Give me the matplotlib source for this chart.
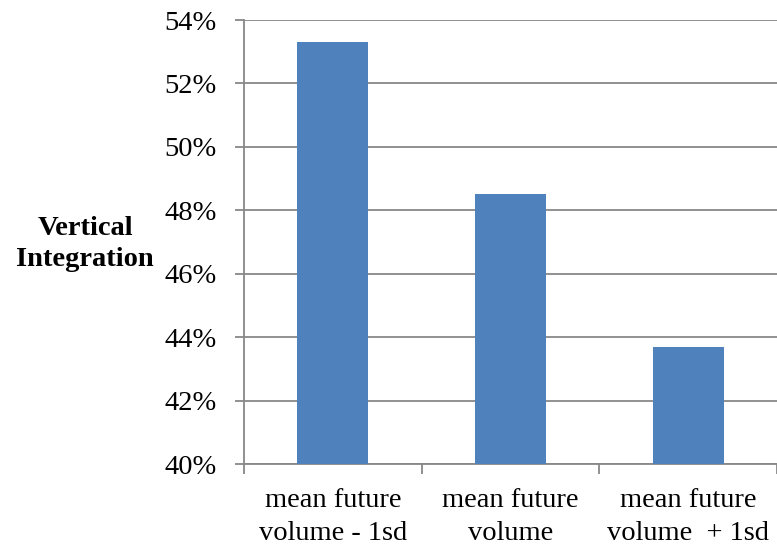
import matplotlib
matplotlib.use("Agg")
import matplotlib.pyplot as plt
import numpy as np

categories = ["mean future\nvolume - 1sd", "mean future\nvolume", "mean future\nvolume  + 1sd"]
values = [53.3, 48.5, 43.7]
yticks = [40, 42, 44, 46, 48, 50, 52, 54]
ylabel = "Vertical\nIntegration"

plt.rcParams['font.family'] = ['Liberation Serif', 'DejaVu Serif']
FS = 20.5

fig = plt.figure(figsize=(7.77, 5.47), dpi=100)
ax = fig.add_axes([244/777, 1-464/547, (777-244)/777, (464-20)/547])

x = np.arange(len(categories))
ax.bar(x, values, width=0.4, color="#4F81BD", zorder=3)

ax.set_xlim(-0.5, len(categories) - 0.5)
ax.set_ylim(40, 54)
ax.set_yticks(yticks)
ax.set_yticklabels([f"{v}%" for v in yticks], fontsize=FS)
ax.set_xticks(x)
ax.set_xticklabels(categories, fontsize=FS, linespacing=1.42)
ax.set_xticks(np.arange(len(categories) + 1) - 0.5, minor=True)
ax.tick_params(axis='x', which='major', length=0, pad=17)
ax.tick_params(axis='x', which='minor', length=7, width=1.3, color="#888888", direction='out')
ax.tick_params(axis='y', length=6.5, width=1.3, color="#888888", direction='out', pad=13)

ax.grid(axis='y', color="#888888", linewidth=1.3, zorder=0)
for s in ['top', 'right']:
    ax.spines[s].set_visible(False)
for s in ['left', 'bottom']:
    ax.spines[s].set_color("#888888")
    ax.spines[s].set_linewidth(1.3)

fig.text(85/777, 1-244/547, ylabel, ha='center', va='center', fontsize=FS,
         fontweight='bold', linespacing=1.3)

fig.savefig("out.png", dpi=100)
